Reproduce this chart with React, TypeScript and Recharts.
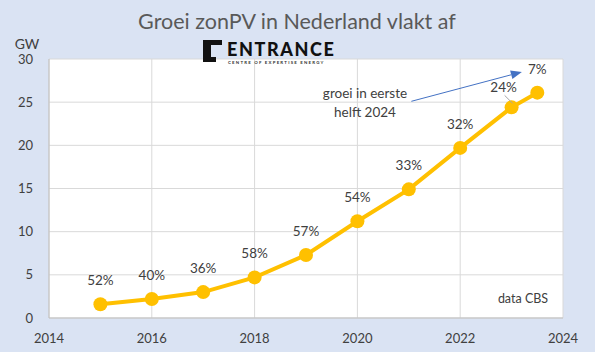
import React from 'react';
import { LineChart, Line, XAxis, YAxis, CartesianGrid, LabelList, ReferenceLine } from 'recharts';

const years = [2015, 2016, 2017, 2018, 2019, 2020, 2021, 2022, 2023, 2023.5];
const capacityGW = [1.6, 2.2, 3.0, 4.7, 7.3, 11.2, 14.9, 19.7, 24.4, 26.1];
const growthLabels = ['52%', '40%', '36%', '58%', '57%', '54%', '33%', '32%', '24%', '7%'];
const xTicks = [2014, 2016, 2018, 2020, 2022, 2024];
const yTicks = [0, 5, 10, 15, 20, 25, 30];

const data = years.map((y, i) => ({ year: y, gw: capacityGW[i], label: growthLabels[i] }));

const FONT = 'Lato, "Open Sans", sans-serif';
const TXT = '#404040';

const renderLabel = (props: any) => {
  const { x, y, value, index } = props;
  if (index === 8) {
    return (
      <g>
        <line x1={x + 1} y1={y - 4} x2={x - 7} y2={y - 12} stroke="#a6a6a6" strokeWidth={1} />
        <text x={x - 8} y={y - 15} textAnchor="middle" fontSize={13.5} fill={TXT} fontFamily={FONT}>{value}</text>
      </g>
    );
  }
  return (
    <text x={x} y={y - 19} textAnchor="middle" fontSize={13.5} fill={TXT} fontFamily={FONT}>{value}</text>
  );
};

const arrowShape = (props: any) => {
  const { x1, y1, x2, y2 } = props;
  if (x1 == null) return null;
  const ang = Math.atan2(y2 - y1, x2 - x1);
  const L = 11, W = 4.5;
  const bx = x2 - L * Math.cos(ang), by = y2 - L * Math.sin(ang);
  const p1 = `${x2},${y2}`;
  const p2 = `${bx + W * Math.sin(ang)},${by - W * Math.cos(ang)}`;
  const p3 = `${bx - W * Math.sin(ang)},${by + W * Math.cos(ang)}`;
  return (
    <g>
      <line x1={x1} y1={y1} x2={bx} y2={by} stroke="#4472c4" strokeWidth={1} />
      <polygon points={`${p1} ${p2} ${p3}`} fill="#4472c4" />
    </g>
  );
};

export default function App() {
  return (
    <div style={{ position: 'fixed', left: 0, top: 0, width: 595, height: 352, background: '#dae3f3' }}>
      <LineChart width={595} height={352} data={data} margin={{ top: 59, right: 32, bottom: 0, left: 0 }}>
        <CartesianGrid stroke="#d9d9d9" fill="#ffffff" />
        <XAxis
          dataKey="year"
          type="number"
          domain={[2014, 2024]}
          ticks={xTicks}
          axisLine={{ stroke: '#bfbfbf' }}
          tickLine={false}
          tick={{ fontSize: 13, fill: TXT, fontFamily: FONT }}
          tickMargin={10}
          height={34}
        />
        <YAxis
          type="number"
          domain={[0, 30]}
          ticks={yTicks}
          axisLine={{ stroke: '#bfbfbf' }}
          tickLine={false}
          tick={{ fontSize: 13, fill: TXT, fontFamily: FONT }}
          tickMargin={10}
          width={49}
        />
        <ReferenceLine
          segment={[{ x: 2021.05, y: 25.1 }, { x: 2023.2, y: 28.5 }]}
          shape={arrowShape}
          ifOverflow="visible"
        />
        <Line
          dataKey="gw"
          stroke="#ffc000"
          strokeWidth={4}
          dot={{ r: 7, fill: '#ffc000', stroke: '#ffc000', strokeWidth: 0 }}
          isAnimationActive={false}
        >
          <LabelList dataKey="label" content={renderLabel} />
        </Line>
      </LineChart>
      <svg width={595} height={352} style={{ position: 'absolute', left: 0, top: 0, pointerEvents: 'none' }}>
        <text x={297} y={29} textAnchor="middle" fontSize={21.5} fill="#595959" fontFamily={FONT}>Groei zonPV in Nederland vlakt af</text>
        <text x={27} y={49} textAnchor="middle" fontSize={14} fill={TXT} fontFamily={FONT}>GW</text>
        <polygon points="203,40 222,40 222,45 211,45 211,57 216,57 216,62 203,62" fill="#111111" />
        <text x={227} y={56} fontSize={18} fontWeight={900} fill="#111111" fontFamily={FONT} letterSpacing={1.6}>ENTRANCE</text>
        <text x={228} y={63.5} fontSize={4.4} fontWeight={700} fill="#333333" fontFamily={FONT} letterSpacing={1.2}>CENTRE OF EXPERTISE ENERGY</text>
        <text x={365} y={98} textAnchor="middle" fontSize={13.5} fill={TXT} fontFamily={FONT}>groei in eerste</text>
        <text x={365} y={117} textAnchor="middle" fontSize={13.5} fill={TXT} fontFamily={FONT}>helft 2024</text>
        <text x={523} y={303} textAnchor="middle" fontSize={12.5} fill={TXT} fontFamily={FONT}>data CBS</text>
      </svg>
    </div>
  );
}
